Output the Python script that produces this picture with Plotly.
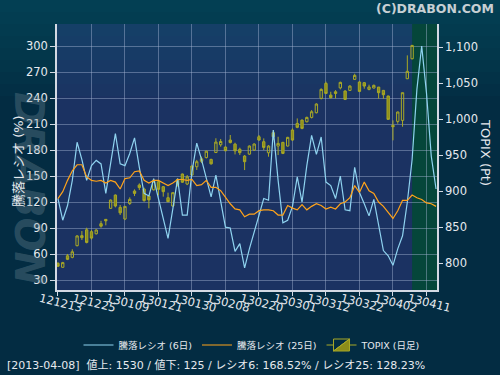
import plotly.graph_objects as go

# ---------------- data ----------------
tick_labels = ["121213", "121225", "130109", "130121", "130130", "130208",
               "130220", "130301", "130312", "130322", "130402", "130411"]
tick_step = 7

ratio6 = [124, 99, 116, 145, 189, 169, 145, 162, 168, 164,
          130, 165, 199, 164, 162, 176, 194, 160, 130, 127,
          147, 124, 101, 78, 112, 147, 105, 105, 155, 188,
          169, 149, 126, 151, 120, 91, 90, 63, 72, 44,
          66, 86, 107, 124, 122, 203, 145, 96, 99, 115,
          149, 120, 162, 197, 175, 195, 143, 139, 124, 150,
          111, 110, 160, 131, 118, 104, 123, 95, 64, 58,
          47, 66, 81, 120, 169, 250, 300, 246, 173, 135]

ratio25 = [124, 132, 145, 156, 163, 163, 149, 145, 144, 145,
           142, 145, 143, 135, 147, 148, 155, 156, 145, 142,
           145, 145, 142, 139, 142, 146, 146, 145, 146, 139,
           140, 145, 137, 137, 133, 125, 118, 112, 111, 103,
           106, 106, 110, 111, 111, 110, 105, 105, 116, 113,
           111, 117, 111, 115, 118, 116, 112, 114, 112, 118,
           120, 125, 139, 131, 143, 133, 130, 120, 115, 108,
           101, 110, 122, 122, 128, 125, 123, 119, 118, 115]

topix_open = [800, 794.5, 810.5, 808.3, 824.5, 838.4, 846.5, 843.9, 841, 855,
              861, 876.3, 894.7, 877.6, 861.5, 883, 900.3, 908.6, 903, 893.3,
              902, 913.2, 906.3, 891, 879.5, 916.5, 923.9, 910, 922.5, 934,
              945, 946.7, 944.2, 953.7, 964.5, 961.3, 971, 965.3, 958.2, 948.8,
              951.5, 957.1, 975.6, 968.7, 953.4, 981.2, 962.7, 967.8, 962.7, 984.9,
              994.1, 998.7, 996.4, 1002.4, 1008.9, 1028.8, 1049.6, 1033.4, 1038, 1043.4,
              1039, 1039.9, 1055.2, 1051.5, 1050.6, 1041.3, 1043.2, 1044.5, 1039.9, 1032.1,
              991.4, 996.9, 998.3, 1056.1, 1083.8]
topix_close = [796, 801, 805.5, 816, 838, 835.6, 829, 835, 846.2, 851.5,
               859, 887.8, 879.5, 870, 879, 888.7, 897, 905, 887, 888,
               914, 902.6, 899.4, 885.5, 898, 909, 912.5, 920, 935, 941,
               941.5, 955.5, 938, 968.2, 969, 956.2, 967.5, 956, 953.5, 941,
               962.7, 965.5, 971, 960.8, 962.7, 975.6, 966.4, 952.5, 974.7, 971,
               988.6, 987.2, 1002.4, 1010.3, 1021, 1041.3, 1035.7, 1029.7, 1035.7, 1051,
               1027.4, 1045.9, 1060.7, 1038.5, 1045.9, 1044.5, 1046.9, 1036.7, 1033.9, 999.7,
               989.5, 1009.9, 1036.7, 1066.3, 1102.3]
topix_high = [801.5, 802, 813, 819.5, 839, 844.8, 849.4, 846.2, 847.2, 859,
              861.5, 888.5, 895.5, 880.9, 879.5, 891.5, 902.6, 910.9, 905, 894.7,
              915, 914, 907, 898, 898.5, 917.5, 924.5, 922.5, 935.5, 943.5,
              948, 956.5, 945, 973.5, 972.5, 962, 978, 967.3, 960.4, 950.2,
              963.5, 966.5, 978, 973.3, 964, 984.9, 975.6, 968.5, 975.5, 987.2,
              1001, 999.5, 1003.5, 1012.6, 1022, 1042.7, 1052, 1038, 1040.3, 1052,
              1040, 1047, 1063, 1052.5, 1051.5, 1047.8, 1048, 1044.5, 1040.5, 1032.5,
              998.3, 1010.5, 1036.7, 1088.5, 1103]
topix_low = [795, 794, 804.5, 807, 823.5, 832.3, 827.7, 833, 840, 849.4,
             852.7, 875.5, 877.6, 867, 860, 880.9, 893.3, 901.7, 885.5, 876.3,
             901, 894.7, 892.5, 885, 878.5, 906.5, 911.5, 908.5, 921.5, 929.5,
             939, 945.5, 937, 953, 961.8, 955.5, 966.4, 951.1, 950.2, 929.4,
             950.5, 956, 970, 957.1, 947.9, 971, 950.2, 951.5, 962, 970,
             987.5, 986, 995.5, 1001, 1008, 1027.4, 1035, 1028.8, 1028.8, 1041.3,
             1026.5, 1039, 1054.5, 1037.5, 1042.2, 1040, 1042.5, 1028.4, 1028.4, 999,
             970.6, 993.7, 989.5, 1055.5, 1083]

info_text = "[2013-04-08]  値上: 1530 / 値下: 125 / レシオ6: 168.52% / レシオ25: 128.23%"

# ---------------- styles ----------------
PAPER = "#032c42"
PLOT = "#1b3262"
GREEN = "#05463a"
GRID = "rgba(165,180,210,0.45)"
AXLINE = "#d3d9e3"
TXT = "#e6e9ee"
BLUE = "#8fd3f0"
ORANGE = "#ffa31a"
OLIVE_LINE = "#a9a926"
OLIVE_FILL = "#8c8c1a"
FONT = "DejaVu Sans, Noto Sans CJK JP, sans-serif"

W, H = 500, 375
ML, MR, MT, MB = 57, 63, 24, 85
PW, PH = W - ML - MR, H - MT - MB


def px_x(p):
    return (p - ML) / PW


def px_y(p):
    return (H - MB - p) / PH


n_line = len(ratio6)
n_candle = len(topix_close)
x_line = list(range(n_line))
x_candle = list(range(n_candle))
tick_vals = [i * tick_step for i in range(len(tick_labels))]
x_range = [-0.2, n_line - 1 + 0.2]

fig = go.Figure()

fig.add_trace(go.Candlestick(
    x=x_candle, open=topix_open, high=topix_high, low=topix_low, close=topix_close,
    name="TOPIX (日足)", yaxis="y", legendrank=3,
    increasing=dict(line=dict(color=OLIVE_LINE, width=1), fillcolor="rgba(0,0,0,0)"),
    decreasing=dict(line=dict(color=OLIVE_LINE, width=1), fillcolor=OLIVE_FILL),
    whiskerwidth=0, hoverinfo="skip",
))
fig.add_trace(go.Scatter(
    x=x_line, y=ratio6, mode="lines", name="騰落レシオ (6日)", yaxis="y2",
    line=dict(color=BLUE, width=1.2), legendrank=1,
))
fig.add_trace(go.Scatter(
    x=x_line, y=ratio25, mode="lines", name="騰落レシオ (25日)", yaxis="y2",
    line=dict(color=ORANGE, width=1.2), legendrank=2,
))

# soft lighter band at the top of the page (background gradient)
shapes = []
for k in range(1, 9):
    shapes.append(dict(type="rect", xref="paper", yref="paper",
                       x0=px_x(0), x1=px_x(W), y0=px_y(12 * k), y1=px_y(0),
                       fillcolor="rgba(20,105,125,0.06)", line=dict(width=0),
                       layer="below"))
# green highlighted region from last candle to end
shapes.append(dict(type="rect", xref="x", yref="paper", x0=n_candle - 1, x1=x_range[1],
                   y0=0, y1=1, fillcolor=GREEN, line=dict(width=0), layer="below"))

fig.update_layout(
    width=W, height=H,
    margin=dict(l=ML, r=MR, t=MT, b=MB, autoexpand=False),
    paper_bgcolor=PAPER, plot_bgcolor=PLOT,
    font=dict(family=FONT, color=TXT, size=11.5),
    shapes=shapes,
    xaxis=dict(range=x_range, tickvals=tick_vals, ticktext=tick_labels,
               tickangle=14, ticklabelshift=-18, ticklabelstandoff=-8,
               showgrid=True, gridcolor=GRID, gridwidth=1,
               showline=True, linecolor=AXLINE, linewidth=1.5, ticks="outside",
               ticklen=4, tickcolor=AXLINE, tickfont=dict(size=11.5, color=TXT),
               rangeslider=dict(visible=False), zeroline=False, automargin=False),
    yaxis=dict(side="right", range=[763, 1132], tickvals=list(range(800, 1101, 50)),
               tickformat=",", showgrid=False, showline=True, linecolor=AXLINE,
               linewidth=1.5, ticks="outside", ticklen=4, tickcolor=AXLINE,
               tickfont=dict(size=11.5, color=TXT), zeroline=False, automargin=False),
    yaxis2=dict(side="left", overlaying="y", range=[18.5, 325.4],
                tickvals=list(range(30, 301, 30)), showgrid=True, gridcolor=GRID,
                showline=True, linecolor=AXLINE, linewidth=1.5, ticks="outside",
                ticklen=5, tickcolor=AXLINE, tickfont=dict(size=11.5, color=TXT),
                zeroline=False, automargin=False),
    showlegend=True,
    legend=dict(orientation="h", x=px_x(252), xanchor="center", y=px_y(345),
                yanchor="middle", font=dict(size=9.5, color=TXT),
                bgcolor="rgba(0,0,0,0)", itemwidth=30, traceorder="normal"),
)

annotations = [
    dict(text="<b>(C)DRABON.COM</b>", x=px_x(496), y=px_y(8), xref="paper", yref="paper",
         xanchor="right", yanchor="middle", showarrow=False,
         font=dict(size=12.5, color="#c7cfd3", family="DejaVu Sans")),
    dict(text="<b><i>DRABON</i></b>", x=px_x(29), y=px_y(188), xref="paper", yref="paper",
         textangle=90, showarrow=False, xanchor="center", yanchor="middle",
         font=dict(size=40, color="rgba(120,145,158,0.32)", family="DejaVu Sans")),
    dict(text="騰落レシオ (%)", x=px_x(18), y=px_y(161), xref="paper", yref="paper",
         textangle=-90, showarrow=False, xanchor="center", yanchor="middle",
         font=dict(size=13, color=TXT)),
    dict(text="TOPIX (Pt)", x=px_x(486), y=px_y(152), xref="paper", yref="paper",
         textangle=90, showarrow=False, xanchor="center", yanchor="middle",
         font=dict(size=13, color=TXT)),
    dict(text=info_text, x=px_x(5), y=px_y(365), xref="paper", yref="paper",
         xanchor="left", yanchor="middle", showarrow=False,
         font=dict(size=11, color=TXT)),
]
fig.update_layout(annotations=annotations)

fig.write_html("out.html", config={"displayModeBar": False},
               post_script="document.body.style.margin='0';")
